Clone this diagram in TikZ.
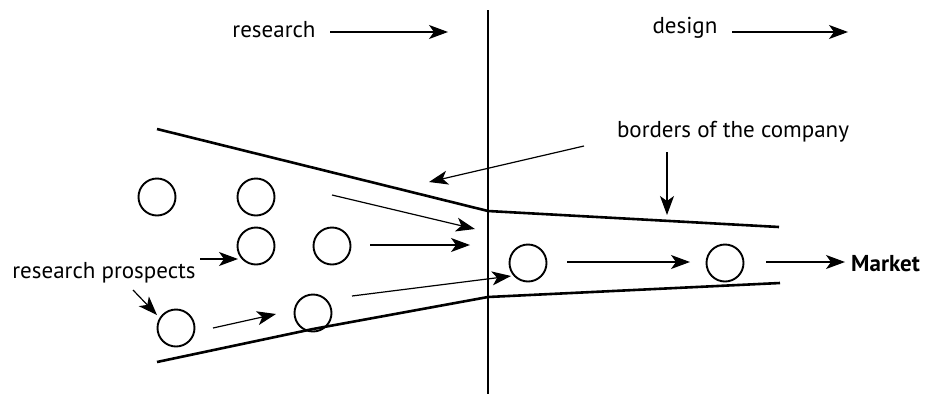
\documentclass[tikz,border=0pt]{standalone}
\usepackage{fontspec}
\setmainfont{PT Sans}
\usetikzlibrary{arrows.meta}
\begin{document}
\begin{tikzpicture}[x=1pt,y=-1pt,
  border/.style={line width=2.6pt},
  prospect/.style={circle,draw,line width=1.9pt,minimum size=37pt,inner sep=0pt},
  flow/.style={line width=1.2pt,-{Stealth[length=19pt,width=14pt,inset=5pt]}},
  lbl/.style={font=\fontsize{23}{26}\selectfont,inner sep=0pt}]
\useasboundingbox (0,0) rectangle (925,394);
% divider
\coordinate (vtop) at (488,10);
\coordinate (vbot) at (488,394);
\draw[line width=2pt] (vtop) -- (vbot);
% borders of the company
\coordinate (u1) at (157,129);
\coordinate (u2) at (488,211);
\coordinate (u3) at (779,227);
\coordinate (l1) at (157,362);
\coordinate (l2) at (313,329);
\coordinate (l3) at (488,297);
\coordinate (l4) at (780,283);
\draw[border,line join=round] (u1) -- (u2) -- (u3);
\draw[border,line join=round] (l1) -- (l2) -- (l3) -- (l4);
% prospects
\node[prospect] (c1) at (157,197) {};
\node[prospect] (c2) at (256,197) {};
\node[prospect] (c3) at (256,246) {};
\node[prospect] (c4) at (332,246) {};
\node[prospect] (c5) at (176,328) {};
\node[prospect] (c6) at (313,313) {};
\node[prospect] (c7) at (528,263) {};
\node[prospect] (c8) at (725,263) {};
% labels
\node[lbl] (research) at (274,30) {research};
\node[lbl] (design) at (685,28) {design};
\node[lbl] (borders) at (733,132) {borders of the company};
\node[lbl] (prospects) at (104,273) {research prospects};
\node[lbl,font=\fontsize{23}{26}\selectfont\bfseries,anchor=west] (market) at (851,264) {Market};
% arrow end points
\coordinate (r0) at (330,32);
\coordinate (r1) at (448,32);
\coordinate (d0) at (732,32);
\coordinate (d1) at (848,32);
\coordinate (b1) at (584,146);
\coordinate (b2) at (429,182);
\coordinate (b3) at (667,152);
\coordinate (b4) at (667,215);
\coordinate (a1s) at (332,195);
\coordinate (a1e) at (475,229);
\coordinate (a2s) at (370,245);
\coordinate (a2e) at (470,245);
\coordinate (p1) at (200,259);
\coordinate (p2) at (238,259);
\coordinate (p3) at (133,290);
\coordinate (p4) at (157,315);
\coordinate (a5s) at (213,328);
\coordinate (a5e) at (276,314);
\coordinate (a6s) at (352,296);
\coordinate (a6e) at (511,276);
\coordinate (a7s) at (567,262);
\coordinate (a7e) at (690,262);
\coordinate (a8s) at (766,262);
\coordinate (a8e) at (845,262);
% arrows
\draw[flow] (r0) -- (r1);
\draw[flow] (d0) -- (d1);
\draw[flow] (b1) -- (b2);
\draw[flow] (b3) -- (b4);
\draw[flow] (a1s) -- (a1e);
\draw[flow] (a2s) -- (a2e);
\draw[flow] (p1) -- (p2);
\draw[flow] (p3) -- (p4);
\draw[flow] (a5s) -- (a5e);
\draw[flow] (a6s) -- (a6e);
\draw[flow] (a7s) -- (a7e);
\draw[flow] (a8s) -- (a8e);
\end{tikzpicture}
\end{document}
